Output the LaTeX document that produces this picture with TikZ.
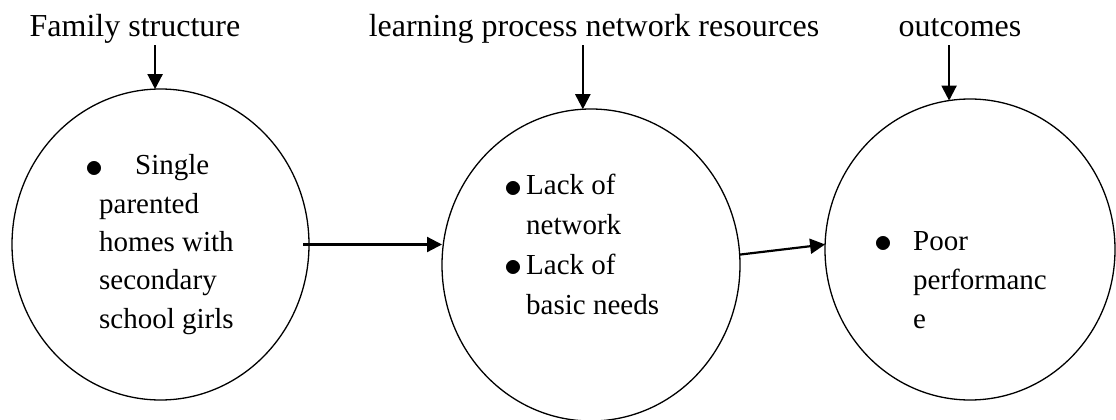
\documentclass[tikz,border=0pt]{standalone}
\usepackage{fontspec}
\setmainfont{Liberation Serif}
\usetikzlibrary{shapes.geometric,arrows.meta}
\newcommand{\bigdot}{\hspace*{-3pt}\raisebox{-2.5pt}{\scalebox{1.45}{$\bullet$}}}

\begin{document}
\begin{tikzpicture}
  			[x=1pt,y=-1pt,font=\fontsize{29}{39}\selectfont,
  			 ring/.style={ellipse,draw,line width=1.3pt,inner sep=0pt,outer sep=0pt},
  			 title/.style={inner sep=0pt,text depth=8pt,anchor=base,font=\fontsize{32}{39}\selectfont},
  			 body/.style={inner sep=0pt,anchor=base west,align=left},
  			 arr/.style={line width=2.2pt,-{Triangle[length=15pt,width=15pt]}}]
  			\useasboundingbox (0,0) rectangle (1116,420);

  			\node[ring,minimum width=297,minimum height=311] (c1) at (160.5,244.5) {};
  			\node[ring,minimum width=298,minimum height=312] (c2) at (591,265) {};
  			\node[ring,minimum width=290,minimum height=301] (c3) at (970,249.5) {};

  			\node[title] (t1) at (135,37) {Family structure};
  			\node[title] (t2) at (594,37) {learning process network resources};
  			\node[title] (t3) at (960,37) {outcomes};

  			% base = last line
  			\node[body,font=\fontsize{29}{38.3}\selectfont] (b1) at (88,328)
  			  {\makebox[47pt][l]{\bigdot}Single\\\hspace*{11pt}parented\\\hspace*{11pt}homes with\\\hspace*{11pt}secondary\\\hspace*{11pt}school girls};
  			\node[body,font=\fontsize{29}{39.7}\selectfont] (b2) at (507,314)
  			  {\makebox[19pt][l]{\bigdot}Lack of\\\hspace*{19pt}network\\\makebox[19pt][l]{\bigdot}Lack of\\\hspace*{19pt}basic needs};
  			\node[body] (b3) at (877,328)
  			  {\makebox[36pt][l]{\bigdot}Poor\\\hspace*{36pt}performanc\\\hspace*{36pt}e};

  			\foreach \from/\to/\ang in {t1/c1/92,t2/c2/93,t3/c3/98}
    		\draw[arr] (\to.\ang |- \from.south) -- (\to.\ang);

  			\draw[arr] ([xshift=-6pt]c1.east) -- (c1.east -| c2.west);
  			\draw[arr] (c2.4) -- (c3.178);
		\end{tikzpicture}
\end{document}
